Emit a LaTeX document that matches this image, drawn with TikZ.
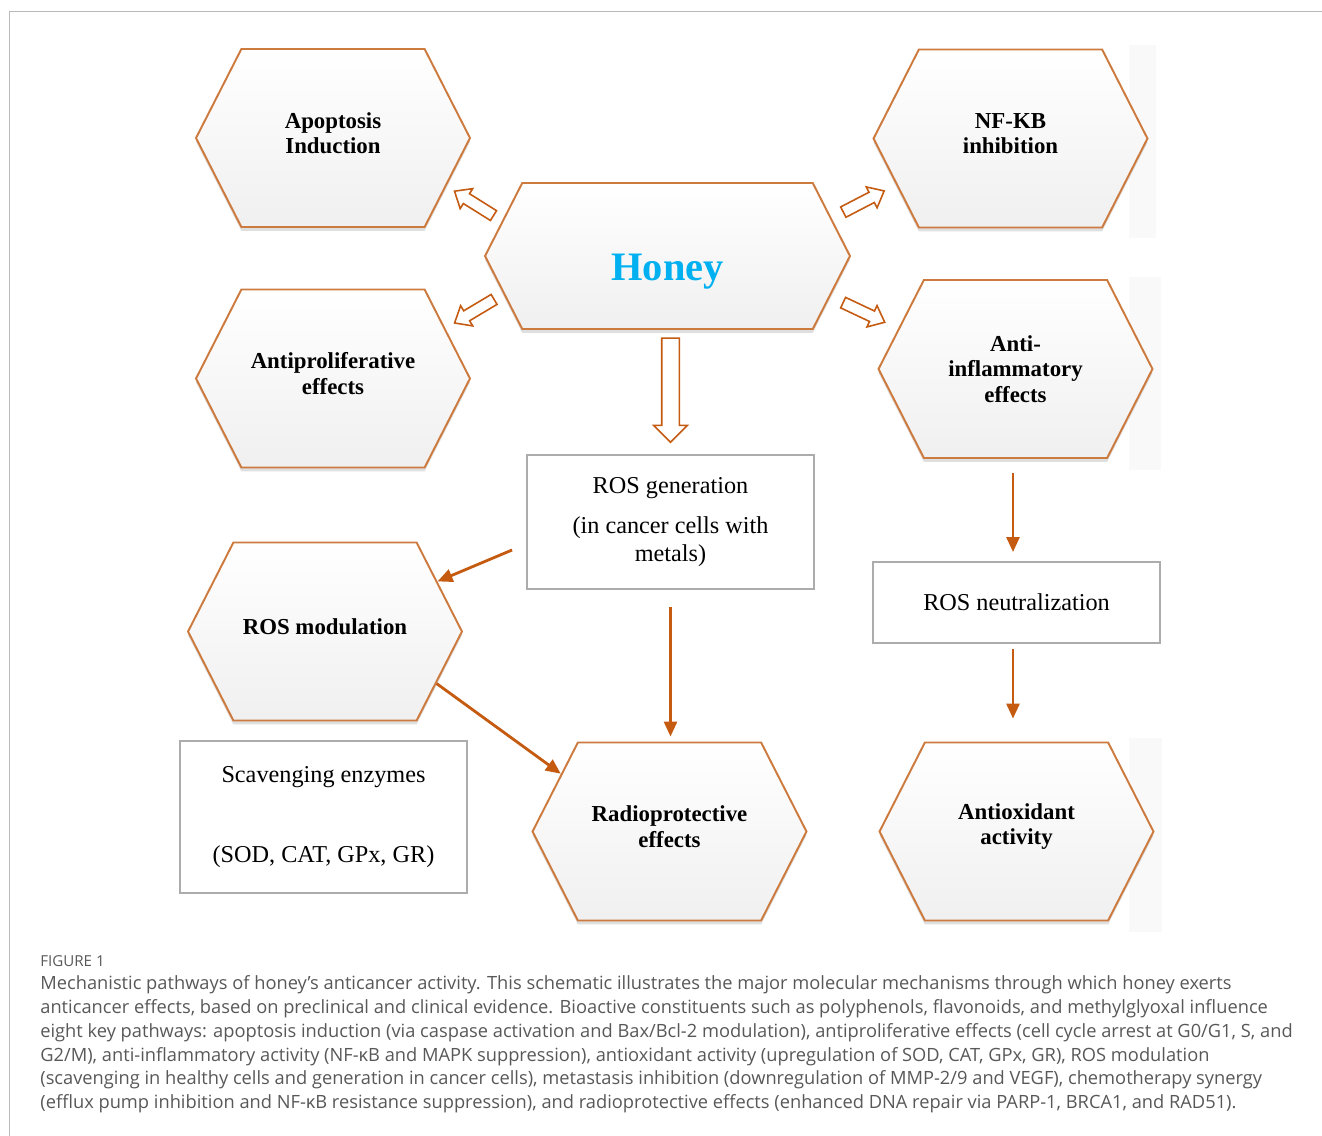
\documentclass[tikz,border=0pt]{standalone}
\usepackage{fontspec}
\setmainfont{Liberation Serif}
\newfontfamily\capfont{Open Sans}
\usetikzlibrary{shapes.symbols,shapes.arrows,shadows,arrows.meta}
\definecolor{hexline}{RGB}{205,122,62}
\definecolor{arrowc}{RGB}{197,90,17}
\definecolor{honeyblue}{RGB}{0,176,240}
\definecolor{capgray}{RGB}{88,88,88}
\tikzset{
  hexbox/.style={signal, signal to=east and west, signal pointer angle=126,
    draw=hexline, line width=1.1pt, top color=white, bottom color=gray!12,
    middle color=gray!6, minimum width=5.48cm, minimum height=3.56cm,
    inner sep=0pt, align=center, font=\fontsize{13}{14.7}\selectfont\bfseries,
    text depth=0.2cm,
    drop shadow={shadow xshift=0pt, shadow yshift=-0.08cm, opacity=0.25}},
  infobox/.style={draw=gray!65, line width=1.1pt, fill=white, align=center,
    inner sep=0pt, minimum width=5.74cm, font=\fontsize{13.8}{15.9}\selectfont},
  hollow/.style={single arrow, draw=arrowc, line width=0.9pt, fill=white,
    inner xsep=0pt, inner ysep=0.1cm, minimum height=0.92cm, minimum width=0pt,
    single arrow head extend=0.12cm, single arrow tip angle=80,
    sloped, allow upside down},
  flow/.style={draw=arrowc, line width=1.6pt,
    -{Triangle[length=0.3cm,width=0.26cm]}},
  ghost/.style={fill=gray!5, draw=none},
}
\begin{document}
\begin{tikzpicture}[x=0.02cm,y=-0.02cm]
  \useasboundingbox (0,0) rectangle (1322,1136);
  % frame
  \draw[gray!55, line width=0.8pt] (9.5,1136) -- (9.5,11.5) -- (1322,11.5);
  \fill[ghost] (1129,45) rectangle (1156,238);
  \fill[ghost] (1129,277) rectangle (1161,470);
  \fill[ghost] (1129,738) rectangle (1162,932);

  % pathways
  \node[hexbox, minimum width=7.3cm, minimum height=2.92cm,
    font=\fontsize{23}{26}\selectfont\bfseries, text=honeyblue,
    text height=0.96cm, text depth=0cm] (honey) at (667.5,256) {Honey};
  \node[hexbox] (apop) at (333,138) {Apoptosis\\Induction};
  \node[hexbox] (prolif) at (333,378.5) {Antiproliferative\\effects};
  \node[hexbox] (nfkb) at (1010.5,138.5) {NF-KB\\inhibition};
  \node[hexbox, text depth=0cm] (anti) at (1015.5,369)
    {Anti-\\inflammatory\\effects};
  \node[hexbox] (rosmod) at (325,631.5) {ROS modulation};
  \node[hexbox] (radio) at (669.5,831.5) {Radioprotective\\effects};
  \node[hexbox, text depth=0.3cm] (antiox) at (1016.5,831.5)
    {Antioxidant\\activity};

  % text boxes
  \node[infobox, minimum height=2.68cm] (rosgen) at (670.5,522)
    {ROS generation\\[0.26cm](in cancer cells with\\metals)};
  \node[infobox, minimum height=1.62cm] (rosneut) at (1016.5,602.5)
    {ROS neutralization};
  \node[infobox, minimum height=3.04cm] (scav) at (323.5,817)
    {Scavenging enzymes\\[1.04cm](SOD, CAT, GPx, GR)};

  % hollow arrows out of honey
  \path (honey.168) -- (apop.-23) node[hollow, pos=0.45] {};
  \path (honey.193) -- (prolif.24) node[hollow, pos=0.45] {};
  \path (honey.13) -- (nfkb.202) node[hollow, pos=0.45] {};
  \path (honey.-14) -- (anti.161) node[hollow, pos=0.45] {};
  \path (rosgen.north |- honey.south) -- (rosgen.north) node[hollow, pos=0.45,
    minimum height=2.08cm, inner ysep=0.16cm,
    single arrow head extend=0.16cm, single arrow tip angle=90] {};

  % solid arrows
  \draw[flow] ([xshift=-0.28cm,yshift=-0.56cm]rosgen.west) -- (rosmod.24);
  \draw[flow] (rosmod.-25) -- (radio.152);
  \draw[flow, shorten <=0.34cm, shorten >=0.1cm]
    (rosgen.south) -- (rosgen.south |- radio.north);
  \draw[flow, shorten <=0.28cm, shorten >=0.18cm]
    ([xshift=-0.05cm]anti.south) -- ([xshift=-0.05cm]anti.south |- rosneut.north);
  \draw[flow, shorten <=0.1cm, shorten >=0.46cm]
    ([xshift=-0.07cm]rosneut.south) -- ([xshift=-0.07cm]rosneut.south |- antiox.north);

  % caption
  \node[anchor=north west, inner sep=0pt, text=capgray,
    font=\capfont\fontsize{8.6}{9}\selectfont] (figlabel) at (40,955) {FIGURE 1};
  \node[anchor=north west, inner sep=0pt, align=left, text=capgray,
    font=\capfont\fontsize{10.4}{13.6}\selectfont] (caption) at (40,975)
    {Mechanistic pathways of honey’s anticancer activity. This schematic illustrates the major molecular mechanisms through which honey exerts\\
     anticancer effects, based on preclinical and clinical evidence. Bioactive constituents such as polyphenols, flavonoids, and methylglyoxal influence\\
     eight key pathways: apoptosis induction (via caspase activation and Bax/Bcl-2 modulation), antiproliferative effects (cell cycle arrest at G0/G1, S, and\\
     G2/M), anti-inflammatory activity (NF-κB and MAPK suppression), antioxidant activity (upregulation of SOD, CAT, GPx, GR), ROS modulation\\
     (scavenging in healthy cells and generation in cancer cells), metastasis inhibition (downregulation of MMP-2/9 and VEGF), chemotherapy synergy\\
     (efflux pump inhibition and NF-κB resistance suppression), and radioprotective effects (enhanced DNA repair via PARP-1, BRCA1, and RAD51).};
\end{tikzpicture}
\end{document}
